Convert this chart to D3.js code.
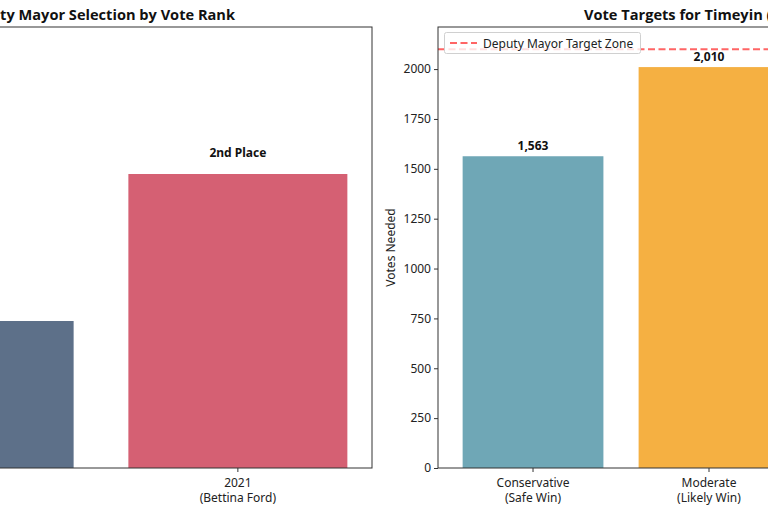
<!DOCTYPE html>
<html lang='en'>
  <head>
    <meta charset='utf-8'>
    <title>Deputy Mayor Vote Charts</title>
    <script type='text/javascript' src='https://cdn.jsdelivr.net/npm/d3@7'></script>
    <style>
      body { margin: 0; background: #fff; }
      text { font-family: 'Noto Sans', sans-serif; }
      text.title { font-family: 'Open Sans', 'Noto Sans', sans-serif; }
    </style>
  </head>
  <body>
    <script type='text/javascript'>

      // left panel: selection rank
      var rankYears = ['2017\n(Lisa Hart)', '2021\n(Bettina Ford)'];
      var rankValues = [1, 2];
      var rankLabels = ['1st Place', '2nd Place'];
      var rankColors = ['#5d7089', '#d56073'];

      // right panel: vote targets
      var targetNames = ['Conservative\n(Safe Win)', 'Moderate\n(Likely Win)', 'Aggressive\n(Stretch Goal)'];
      var targetValues = [1563, 2010, 1950];
      var targetColors = ['#6fa7b6', '#f5b042', '#8c6bb1'];
      var targetTicks = [0, 250, 500, 750, 1000, 1250, 1500, 1750, 2000];
      var deputyLine = 2100;

      var w = 768;
      var h = 512;
      var plotTop = 27;
      var plotBottom = 468;

      var svg = d3.select('body')
                  .append('svg')
                  .attr('width', w)
                  .attr('height', h);

      svg.append('rect')
         .attr('width', w)
         .attr('height', h)
         .attr('fill', '#fff');

      function drawTicks(g, scale, names){
        names.forEach(function(d){
          var cx = scale(d) + scale.bandwidth()/2;
          g.append('line')
           .attr('x1', cx).attr('x2', cx)
           .attr('y1', plotBottom).attr('y2', plotBottom + 4)
           .attr('stroke', '#333');
          var lines = d.split('\n');
          lines.forEach(function(t, j){
            g.append('text')
             .attr('x', cx)
             .attr('y', plotBottom + 19 + j * 14.5)
             .attr('text-anchor', 'middle')
             .attr('font-size', '12px')
             .attr('fill', '#222')
             .text(t);
          });
        });
      }

      // ---------- left panel ----------
      var lx0 = -170, lx1 = 372;
      var left = svg.append('g');

      var xLeft = d3.scaleBand()
                    .domain(rankYears)
                    .range([lx0, lx1])
                    .paddingInner(0.2)
                    .paddingOuter(0.09);

      var yLeft = d3.scaleLinear()
                    .domain([0, 3])
                    .range([plotBottom, plotTop]);

      left.selectAll('rect.bar')
          .data(rankValues)
          .enter()
          .append('rect')
          .attr('class', 'bar')
          .attr('x', function(d, i){ return xLeft(rankYears[i]); })
          .attr('y', function(d){ return yLeft(d); })
          .attr('width', xLeft.bandwidth())
          .attr('height', function(d){ return plotBottom - yLeft(d); })
          .attr('fill', function(d, i){ return rankColors[i]; });

      left.selectAll('text.val')
          .data(rankValues)
          .enter()
          .append('text')
          .attr('class', 'val')
          .attr('x', function(d, i){ return xLeft(rankYears[i]) + xLeft.bandwidth()/2; })
          .attr('y', function(d){ return yLeft(d) - 17; })
          .attr('text-anchor', 'middle')
          .attr('font-size', '12px')
          .attr('font-weight', 'bold')
          .attr('fill', '#111')
          .text(function(d, i){ return rankLabels[i]; });

      left.append('rect')
          .attr('x', lx0).attr('y', plotTop)
          .attr('width', lx1 - lx0).attr('height', plotBottom - plotTop)
          .attr('fill', 'none')
          .attr('stroke', '#333')
          .attr('stroke-width', 1);

      drawTicks(left, xLeft, rankYears);

      // title ends where the reference shows it (235px)
      left.append('text')
          .attr('class', 'title')
          .attr('x', 235)
          .attr('y', 20)
          .attr('text-anchor', 'end')
          .attr('font-size', '14.6px')
          .attr('font-weight', 'bold')
          .attr('fill', '#111')
          .text('Deputy Mayor Selection by Vote Rank');

      // ---------- right panel ----------
      var rx0 = 438, rx1 = 980;
      var right = svg.append('g');

      var xRight = d3.scaleBand()
                     .domain(targetNames)
                     .range([rx0, rx1])
                     .paddingInner(0.2)
                     .paddingOuter(0.14);

      var yRight = d3.scaleLinear()
                     .domain([0, 2211])
                     .range([plotBottom, plotTop]);

      right.selectAll('rect.bar')
           .data(targetValues)
           .enter()
           .append('rect')
           .attr('class', 'bar')
           .attr('x', function(d, i){ return xRight(targetNames[i]); })
           .attr('y', function(d){ return yRight(d); })
           .attr('width', xRight.bandwidth())
           .attr('height', function(d){ return plotBottom - yRight(d); })
           .attr('fill', function(d, i){ return targetColors[i]; });

      right.selectAll('text.val')
           .data(targetValues)
           .enter()
           .append('text')
           .attr('class', 'val')
           .attr('x', function(d, i){ return xRight(targetNames[i]) + xRight.bandwidth()/2; })
           .attr('y', function(d){ return yRight(d) - 6; })
           .attr('text-anchor', 'middle')
           .attr('font-size', '12px')
           .attr('font-weight', 'bold')
           .attr('fill', '#111')
           .text(function(d){ return d3.format(',')(d); });

      right.append('line')
           .attr('x1', rx0).attr('x2', rx1)
           .attr('y1', yRight(deputyLine)).attr('y2', yRight(deputyLine))
           .attr('stroke', '#ff4a4a')
           .attr('stroke-opacity', 0.85)
           .attr('stroke-width', 2)
           .attr('stroke-dasharray', '7,3.5');

      var yAxis = d3.axisLeft(yRight)
                    .tickValues(targetTicks)
                    .tickSize(4)
                    .tickPadding(3)
                    .tickFormat(d3.format('d'));

      var ya = right.append('g')
                    .attr('transform', 'translate(' + rx0 + ',0)')
                    .call(yAxis);
      ya.select('.domain').remove();
      ya.selectAll('text')
        .attr('font-size', '12px')
        .attr('fill', '#222')
        .style('font-family', "'Noto Sans', sans-serif");
      ya.selectAll('line').attr('stroke', '#333');

      right.append('rect')
           .attr('x', rx0).attr('y', plotTop)
           .attr('width', rx1 - rx0).attr('height', plotBottom - plotTop)
           .attr('fill', 'none')
           .attr('stroke', '#333')
           .attr('stroke-width', 1);

      drawTicks(right, xRight, targetNames);

      right.append('text')
           .attr('transform', 'translate(395,' + (plotTop + plotBottom)/2 + ') rotate(-90)')
           .attr('text-anchor', 'middle')
           .attr('font-size', '12px')
           .attr('fill', '#222')
           .text('Votes Needed');

      right.append('text')
           .attr('class', 'title')
           .attr('x', 584)
           .attr('y', 20)
           .attr('text-anchor', 'start')
           .attr('font-size', '14.6px')
           .attr('font-weight', 'bold')
           .attr('fill', '#111')
           .text('Vote Targets for Timeyin (2025)');

      // legend
      var leg = right.append('g');
      leg.append('rect')
         .attr('x', 444.5).attr('y', 32.5)
         .attr('width', 196).attr('height', 21)
         .attr('rx', 2)
         .attr('fill', '#fff')
         .attr('fill-opacity', 0.8)
         .attr('stroke', '#d0d0d0');
      leg.append('line')
         .attr('x1', 450).attr('x2', 477)
         .attr('y1', 43).attr('y2', 43)
         .attr('stroke', '#ff4a4a')
         .attr('stroke-opacity', 0.85)
         .attr('stroke-width', 2)
         .attr('stroke-dasharray', '7,3.5');
      leg.append('text')
         .attr('x', 483)
         .attr('y', 47.5)
         .attr('font-size', '12px')
         .attr('fill', '#222')
         .text('Deputy Mayor Target Zone');

    </script>
  </body>
</html>
